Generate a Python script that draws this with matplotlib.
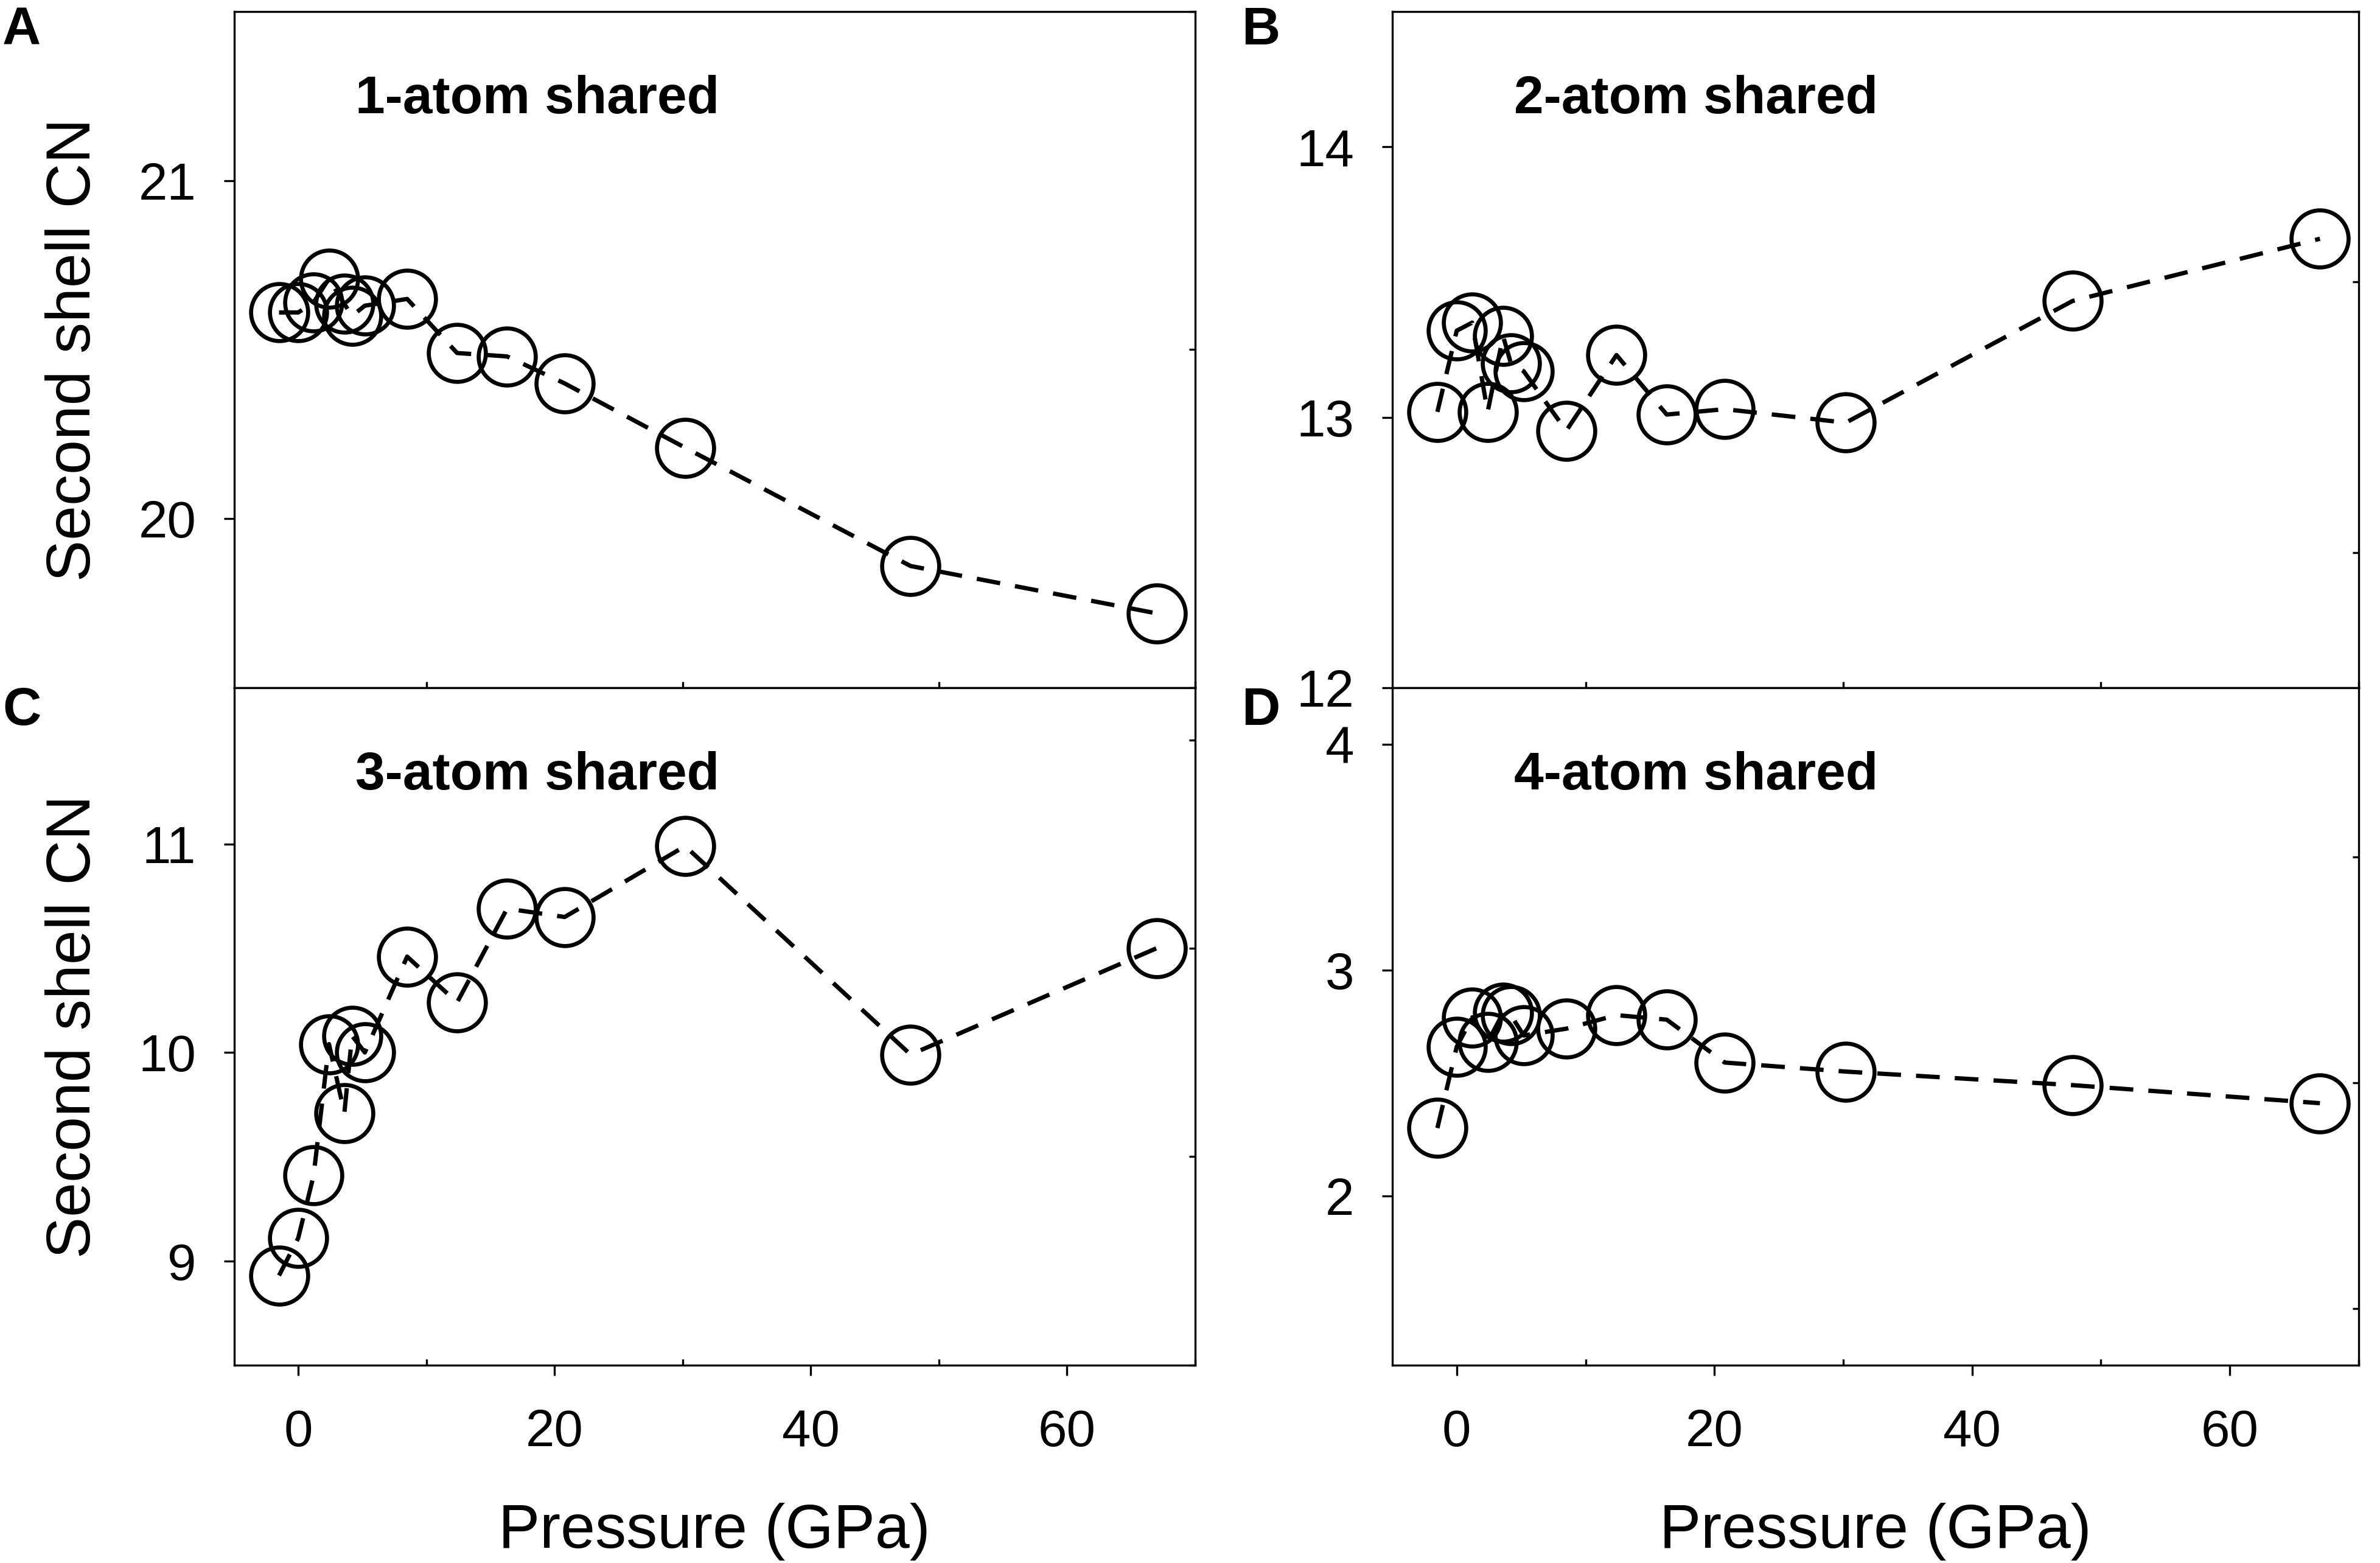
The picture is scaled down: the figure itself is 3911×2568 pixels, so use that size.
import matplotlib
matplotlib.use('Agg')
import matplotlib.pyplot as plt
from matplotlib.ticker import MultipleLocator

plt.rcParams['font.family'] = ['Liberation Sans', 'DejaVu Sans']

# Pressure points (GPa), shared by all four panels
pressure = [-1.5, 0.0, 1.2, 2.4, 3.6, 4.2, 5.2, 8.5, 12.4, 16.3, 20.8, 30.2, 47.8, 67.0]

# Second shell coordination number per sharing mode
cn_1atom = [20.61, 20.61, 20.64, 20.71, 20.635, 20.60, 20.63, 20.65, 20.49, 20.48, 20.40, 20.21, 19.86, 19.72]
cn_2atom = [13.02, 13.32, 13.35, 13.02, 13.30, 13.20, 13.17, 12.95, 13.23, 13.01, 13.03, 12.98, 13.43, 13.66]
cn_3atom = [8.93, 9.11, 9.41, 10.04, 9.71, 10.08, 10.00, 10.46, 10.24, 10.69, 10.65, 10.99, 9.99, 10.50]
cn_4atom = [2.30, 2.66, 2.79, 2.68, 2.81, 2.80, 2.71, 2.74, 2.80, 2.78, 2.59, 2.55, 2.49, 2.41]

panel_titles = ['1-atom shared', '2-atom shared', '3-atom shared', '4-atom shared']
panel_letters = ['A', 'B', 'C', 'D']
y_limits = [(19.5, 21.5), (12.0, 14.5), (8.5, 11.75), (1.25, 4.25)]
x_limits = (-5, 70)


def style_axis(ax, ylim, show_xlabels):
    ax.set_xlim(*x_limits)
    ax.set_ylim(*ylim)
    ax.xaxis.set_major_locator(MultipleLocator(20))
    ax.xaxis.set_minor_locator(MultipleLocator(10))
    ax.yaxis.set_major_locator(MultipleLocator(1))
    ax.yaxis.set_minor_locator(MultipleLocator(0.5))
    ax.tick_params(axis='x', which='major', direction='out', length=4, width=0.8,
                   top=False, labelsize=20.5, pad=13, labelbottom=show_xlabels)
    ax.tick_params(axis='x', which='minor', direction='in', length=2.5, width=0.8, top=False)
    ax.tick_params(axis='y', which='major', direction='out', length=4, width=0.8,
                   left=True, right=False, labelsize=20.5, pad=11)
    ax.tick_params(axis='y', which='minor', direction='in', length=2.5, width=0.8,
                   left=False, right=True)
    for spine in ax.spines.values():
        spine.set_linewidth(0.8)


def plot_panel(ax, values, title, ylim, show_xlabels):
    ax.plot(pressure, values, color='black', linestyle=(0, (5.5, 3.5)), linewidth=1.7,
            marker='o', markersize=22.5, markerfacecolor='none',
            markeredgecolor='black', markeredgewidth=1.6)
    style_axis(ax, ylim, show_xlabels)
    ax.text(0.126, 0.85, title, transform=ax.transAxes, fontsize=21,
            fontweight='bold', ha='left', va='baseline')


def main():
    fig = plt.figure(figsize=(3911 / 300, 2568 / 300), dpi=300)

    left_x, right_x = 0.0984, 0.5850
    widths = [0.4037, 0.4060]
    top_y, top_h = 0.5600, 0.4326
    bot_y, bot_h = 0.1266, 0.4334

    positions = [
        [left_x, top_y, widths[0], top_h],
        [right_x, top_y, widths[1], top_h],
        [left_x, bot_y, widths[0], bot_h],
        [right_x, bot_y, widths[1], bot_h],
    ]
    all_values = [cn_1atom, cn_2atom, cn_3atom, cn_4atom]

    axes = []
    for i, pos in enumerate(positions):
        ax = fig.add_axes(pos)
        plot_panel(ax, all_values[i], panel_titles[i], y_limits[i], show_xlabels=(i >= 2))
        axes.append(ax)

    # y labels only on the left column, x labels only on the bottom row
    for ax in (axes[0], axes[2]):
        ax.set_ylabel('Second shell CN', fontsize=24.5, labelpad=14)
    for ax in (axes[2], axes[3]):
        ax.set_xlabel('Pressure (GPa)', fontsize=24.5, labelpad=18)

    letter_pos = [(0.001, 0.9805), (0.5216, 0.9805), (0.001, 0.545), (0.5216, 0.545)]
    for letter, (lx, ly) in zip(panel_letters, letter_pos):
        fig.text(lx, ly, letter, fontsize=21, fontweight='bold', ha='left', va='center')

    fig.savefig('out.png', dpi=300)
    plt.close(fig)


if __name__ == '__main__':
    main()
